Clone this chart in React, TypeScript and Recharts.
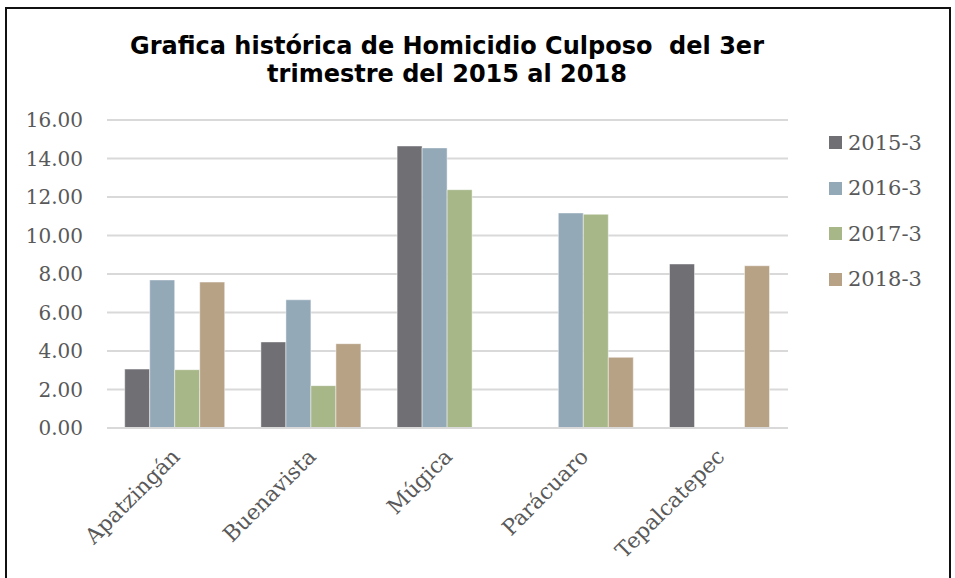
import { Bar, BarChart, CartesianGrid, XAxis, YAxis } from "recharts";

const municipios = ["Apatzingán", "Buenavista", "Múgica", "Parácuaro", "Tepalcatepec"];

const serie2015 = [3.06, 4.47, 14.65, null, 8.52];
const serie2016 = [7.69, 6.66, 14.55, 11.17, null];
const serie2017 = [3.03, 2.2, 12.38, 11.1, null];
const serie2018 = [7.58, 4.38, null, 3.67, 8.43];

const yTicks = [0, 2, 4, 6, 8, 10, 12, 14, 16];

const series = [
  { key: "2015-3", values: serie2015, color: "#706f74" },
  { key: "2016-3", values: serie2016, color: "#93a9b8" },
  { key: "2017-3", values: serie2017, color: "#a7b788" },
  { key: "2018-3", values: serie2018, color: "#b8a286" },
];

const data = municipios.map((name, i) => {
  const row: Record<string, string | number | null> = { name };
  series.forEach((s) => {
    row[s.key] = s.values[i];
  });
  return row;
});

const serif = "'DejaVu Serif', serif";
const labelColor = "#595959";

function AngledTick({ x, y, payload }: any) {
  const tx = x + 6;
  const ty = y + 22;
  return (
    <text
      x={tx}
      y={ty}
      transform={`rotate(-45, ${tx}, ${ty})`}
      textAnchor="end"
      fill={labelColor}
      fontFamily={serif}
      fontSize={21.5}
    >
      {payload.value}
    </text>
  );
}

function LegendBox() {
  return (
    <div style={{ fontFamily: serif, fontSize: 21, color: labelColor }}>
      {series.map((s) => (
        <div
          key={s.key}
          style={{ display: "flex", alignItems: "center", height: 45.5 }}
        >
          <span
            style={{
              display: "inline-block",
              width: 13,
              height: 13,
              background: s.color,
              marginRight: 6,
            }}
          />
          {s.key}
        </div>
      ))}
    </div>
  );
}

export default function App() {
  return (
    <div
      style={{
        position: "absolute",
        left: 0,
        top: 0,
        width: 955,
        height: 578,
        overflow: "hidden",
        background: "#fff",
      }}
    >
      <div
        style={{
          position: "absolute",
          left: 5,
          top: 7,
          width: 942,
          height: 571,
          borderTop: "2px solid #111",
          borderLeft: "2px solid #111",
          borderRight: "2px solid #111",
        }}
      />
      <div
        style={{
          position: "absolute",
          left: 0,
          top: 32,
          width: 894,
          textAlign: "center",
          fontFamily: "'DejaVu Sans', Verdana, sans-serif",
          fontWeight: "bold",
          fontSize: 24,
          lineHeight: "28px",
          color: "#000",
          whiteSpace: "pre",
        }}
      >
        {"Grafica histórica de Homicidio Culposo  del 3er\ntrimestre del 2015 al 2018"}
      </div>
      <div style={{ position: "absolute", left: 0, top: 0 }}>
        <BarChart
          width={955}
          height={578}
          data={data}
          margin={{ top: 120, right: 167, left: 27, bottom: 0 }}
          barCategoryGap="13%"
          barGap={0}
        >
          <CartesianGrid vertical={false} stroke="#d9d9d9" strokeWidth={2} />
          <XAxis
            dataKey="name"
            axisLine={{ stroke: "#d9d9d9", strokeWidth: 2 }}
            tickLine={false}
            interval={0}
            height={150}
            tick={<AngledTick />}
          />
          <YAxis
            width={80}
            domain={[0, 16]}
            ticks={yTicks}
            interval={0}
            axisLine={false}
            tickLine={false}
            tickSize={0}
            tickMargin={24}
            tickFormatter={(v: number) => v.toFixed(2)}
            tick={{ fill: labelColor, fontFamily: serif, fontSize: 20 }}
          />
          {series.map((s) => (
            <Bar
              key={s.key}
              dataKey={s.key}
              name={s.key}
              fill={s.color}
              stroke="#ffffff"
              strokeOpacity={0.45}
              strokeWidth={1}
              isAnimationActive={false}
            />
          ))}
        </BarChart>
      </div>
      <div style={{ position: "absolute", left: 829, top: 120 }}>
        <LegendBox />
      </div>
    </div>
  );
}
